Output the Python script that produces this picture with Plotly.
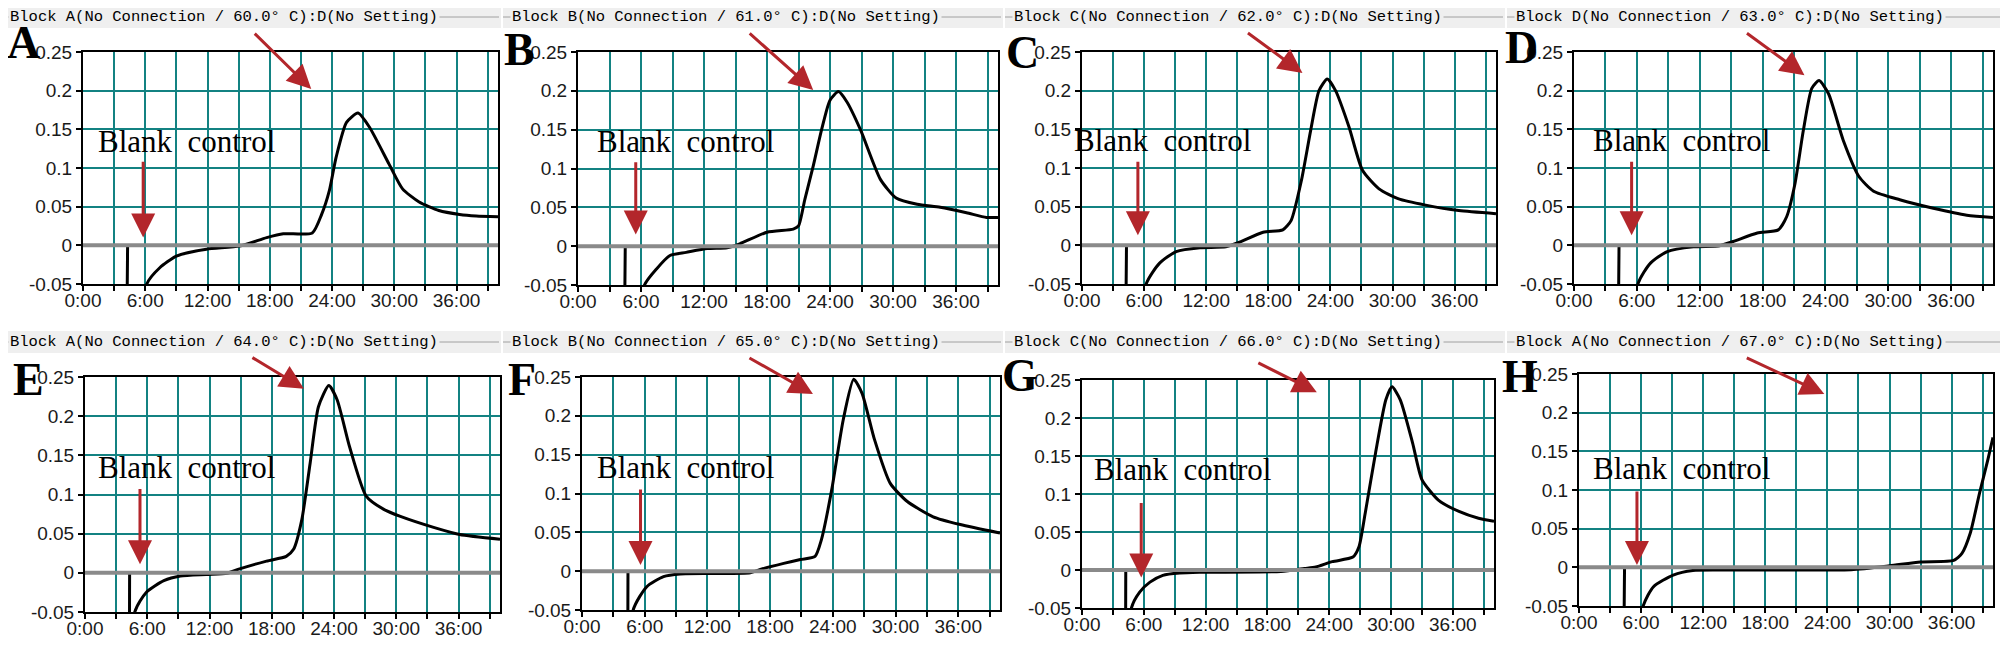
import plotly.graph_objects as go

# the page body has an 8px margin, so the figure is made smaller and
# every pixel position below is measured on the full 2008x647 picture
OFF = 8
W, H = 2008 - 2 * OFF, 647 - 2 * OFF

# ---- data (minutes, absorbance-like signal) ----
panel_letters = ["A", "B", "C", "D", "E", "F", "G", "H"]
block_names = ["A", "B", "C", "D", "A", "B", "C", "A"]
temperatures = [60.0, 61.0, 62.0, 63.0, 64.0, 65.0, 66.0, 67.0]

time_a = [4.3, 4.3, 6.15, 7.4, 9.0, 11.9, 15.1, 17.7, 19.3, 22.1, 23.0, 23.75, 24.4, 25.4,
          26.5, 27.6, 29.5, 30.8, 32.4, 34.3, 36.3, 37.9, 40.0]
signal_a = [0.0, -0.3, -0.05, -0.029, -0.014, -0.005, -0.001, 0.01, 0.015, 0.016, 0.04, 0.071,
            0.114, 0.159, 0.171, 0.153, 0.105, 0.073, 0.056, 0.045, 0.04, 0.038, 0.037]

time_b = [4.5, 4.5, 6.3, 7.5, 8.76, 10.3, 12.3, 14.2, 15.4, 18.0, 20.5, 21.0, 21.6, 22.4, 23.2,
          24.0, 24.8, 25.6, 26.9, 28.8, 30.3, 32.3, 34.5, 37.0, 38.9, 40.0]
signal_b = [0.0, -0.3, -0.051, -0.029, -0.012, -0.008, -0.003, -0.002, 0.003, 0.018, 0.022,
            0.026, 0.06, 0.103, 0.15, 0.188, 0.199, 0.186, 0.15, 0.086, 0.062, 0.054, 0.05,
            0.043, 0.037, 0.037]

time_c = [4.3, 4.3, 6.2, 7.5, 9.1, 11.4, 13.9, 15.2, 17.5, 19.4, 20.2, 21.2, 22.1, 22.9, 23.7,
          24.5, 25.8, 27.1, 28.7, 30.6, 33.2, 36.4, 40.0]
signal_c = [0.0, -0.3, -0.05, -0.023, -0.008, -0.003, -0.002, 0.004, 0.017, 0.02, 0.032, 0.084,
            0.149, 0.2, 0.215, 0.2, 0.153, 0.097, 0.073, 0.06, 0.052, 0.045, 0.041]

time_d = [4.3, 4.3, 6.1, 7.3, 8.9, 11.4, 13.9, 15.2, 17.5, 19.5, 20.3, 21.1, 21.9, 22.7, 23.4,
          24.3, 25.7, 27.2, 28.6, 31.1, 34.3, 37.5, 40.0]
signal_d = [0.0, -0.3, -0.05, -0.023, -0.008, -0.002, -0.0005, 0.005, 0.016, 0.02, 0.037, 0.08,
            0.149, 0.203, 0.213, 0.196, 0.136, 0.089, 0.07, 0.059, 0.048, 0.039, 0.036]

time_e = [4.3, 4.3, 4.8, 5.9, 7.6, 9.2, 11.7, 13.7, 14.9, 17.5, 19.4, 20.1, 20.9, 21.7, 22.5,
          23.5, 24.3, 25.5, 27.1, 28.8, 30.4, 33.6, 36.1, 40.0]
signal_e = [0.0, -0.3, -0.05, -0.025, -0.01, -0.004, -0.002, -0.0005, 0.005, 0.015, 0.021, 0.03,
            0.068, 0.14, 0.212, 0.239, 0.221, 0.161, 0.098, 0.081, 0.072, 0.058, 0.049, 0.043]

time_f = [4.4, 4.4, 4.9, 6.2, 7.8, 9.4, 12.6, 16.1, 17.0, 19.3, 20.9, 22.3, 22.9, 23.9, 25.0,
          26.0, 26.8, 28.0, 29.5, 31.1, 33.6, 36.2, 40.0]
signal_f = [0.0, -0.3, -0.05, -0.02, -0.007, -0.0035, -0.003, -0.002, 0.002, 0.01, 0.015, 0.019,
            0.04, 0.105, 0.195, 0.247, 0.229, 0.169, 0.113, 0.09, 0.07, 0.06, 0.049]

time_g = [4.25, 4.25, 4.8, 5.6, 6.6, 7.85, 9.5, 11.4, 19.3, 21.6, 22.7, 24.3, 26.3, 26.9, 27.5,
          28.5, 29.5, 30.1, 30.9, 32.1, 33.0, 34.6, 36.6, 38.5, 40.0]
signal_g = [0.0, -0.3, -0.05, -0.029, -0.016, -0.007, -0.004, -0.003, -0.002, 0.002, 0.004,
            0.011, 0.017, 0.031, 0.075, 0.154, 0.224, 0.241, 0.224, 0.167, 0.119, 0.092, 0.077,
            0.068, 0.064]

time_h = [4.4, 4.4, 6.2, 7.2, 9.1, 11.0, 14.9, 26.3, 30.0, 33.0, 36.2, 37.0, 37.8, 38.7, 39.5, 40.0]
signal_h = [0.0, -0.3, -0.05, -0.025, -0.01, -0.004, -0.0035, -0.003, 0.002, 0.007, 0.009,
            0.018, 0.044, 0.096, 0.139, 0.168]

times = [time_a, time_b, time_c, time_d, time_e, time_f, time_g, time_h]
signals = [signal_a, signal_b, signal_c, signal_d, signal_e, signal_f, signal_g, signal_h]

x_tick_minutes = list(range(0, 40, 3))
x_tick_labels = [f"{m}:00" if m % 6 == 0 else "" for m in x_tick_minutes]
y_tick_values = [-0.05, 0, 0.05, 0.1, 0.15, 0.2, 0.25]
y_tick_labels = ["-0.05", "0", "0.05", "0.1", "0.15", "0.2", "0.25"]

# ---- layout of the 8 panels (pixels: left, right, top, bottom) ----
plot_boxes = [(83, 498, 52, 284), (578, 998, 52, 285), (1082, 1496, 52, 284), (1574, 1993, 52, 284),
              (85, 500, 377, 612), (582, 1000, 377, 610), (1082, 1494, 380, 608), (1579, 1993, 374, 606)]
letter_pos = [(24, 43), (519, 49), (1022, 52), (1521, 48), (28, 379), (522, 379), (1020, 375), (1520, 376)]
bar_rows = [(6, 28), (331, 353)]
# peak arrow: tip (minutes, value) and tail offset in px
peak_arrows = [(22.0, 0.202, -58, -57), (22.4, 0.201, -65, -58), (21.3, 0.223, -56, -41),
               (22.0, 0.22, -59, -43), (21.1, 0.235, -53, -32), (22.1, 0.228, -65, -37),
               (22.8, 0.234, -60, -30), (23.7, 0.224, -79, -37)]
# blank arrow: x, tip y, tail y
blank_arrows = [(5.8, 0.01, 0.11), (5.5, 0.015, 0.11), (5.4, 0.013, 0.11), (5.5, 0.013, 0.11),
                (5.3, 0.011, 0.109), (5.6, 0.008, 0.107), (5.75, -0.01, 0.09), (5.6, 0.003, 0.10)]
blank_labels = [(10.0, 0.134), (10.2, 0.135), (7.8, 0.135), (10.3, 0.135),
                (9.8, 0.134), (9.9, 0.134), (9.75, 0.132), (9.9, 0.128)]

RED = "#b3262b"
TEAL = "#138282"


def px_x(p):
    return (p - OFF) / W


def px_y(p):
    return 1 - (p - OFF) / H


fig = go.Figure()
shapes = []
annotations = []

for i in range(8):
    sfx = "" if i == 0 else str(i + 1)
    xref, yref = "x" + sfx, "y" + sfx
    left, right, top, bottom = plot_boxes[i]
    row, col = divmod(i, 4)

    fig.add_trace(go.Scatter(
        x=times[i], y=signals[i], mode="lines",
        line=dict(color="black", width=3, shape="spline", smoothing=0.6),
        xaxis=xref, yaxis=yref, hoverinfo="skip", showlegend=False,
    ))

    fig.layout["xaxis" + sfx] = dict(
        domain=[px_x(left), px_x(right)], anchor=yref, range=[0, 40],
        tickvals=x_tick_minutes, ticktext=x_tick_labels,
        showgrid=True, gridcolor=TEAL, gridwidth=2, zeroline=False,
        showline=True, mirror=True, linecolor="black", linewidth=2,
        ticks="outside", ticklen=5, tickwidth=1.5, tickcolor="black",
        ticklabelstandoff=-7,
        tickfont=dict(family="Liberation Sans", size=19, color="#1a1a1a"),
        automargin=False, fixedrange=True,
    )
    fig.layout["yaxis" + sfx] = dict(
        domain=[px_y(bottom), px_y(top)], anchor=xref, range=[-0.05, 0.25],
        tickvals=y_tick_values, ticktext=y_tick_labels,
        showgrid=True, gridcolor=TEAL, gridwidth=2, zeroline=False,
        showline=True, mirror=True, linecolor="black", linewidth=2,
        ticks="outside", ticklen=5, tickwidth=1.5, tickcolor="black",
        tickfont=dict(family="Liberation Sans", size=19, color="#1a1a1a"),
        automargin=False, fixedrange=True,
    )

    # gray baseline at zero, drawn over the curve
    shapes.append(dict(type="line", xref=xref + " domain", yref=yref, x0=0, x1=1, y0=0, y1=0,
                       line=dict(color="#8a8a8a", width=4), layer="above"))

    # title bar
    b0, b1 = bar_rows[row]
    bx0, bx1 = col * 502 + 1, col * 502 + 501
    shapes.append(dict(type="rect", xref="paper", yref="paper",
                       x0=px_x(bx0), x1=px_x(bx1), y0=px_y(b1), y1=px_y(b0),
                       fillcolor="#efefef", line=dict(width=0), layer="below"))
    shapes.append(dict(type="line", xref="paper", yref="paper",
                       x0=px_x(bx0), x1=px_x(bx1 - 2), y0=px_y((b0 + b1) / 2), y1=px_y((b0 + b1) / 2),
                       line=dict(color="#a0a0a0", width=1), layer="below"))
    title = f"Block {block_names[i]}(No Connection / {temperatures[i]:.1f}° C):D(No Setting)"
    annotations.append(dict(text=title, xref="paper", yref="paper",
                            x=px_x(bx0 + 7), y=px_y((b0 + b1) / 2), xanchor="left", yanchor="middle",
                            showarrow=False, bgcolor="#efefef", borderpad=1,
                            font=dict(family="Liberation Mono", size=15.5, color="black")))

    # panel letter
    lx, ly = letter_pos[i]
    annotations.append(dict(text=f"<b>{panel_letters[i]}</b>", xref="paper", yref="paper",
                            x=px_x(lx), y=px_y(ly), xanchor="center", yanchor="middle",
                            showarrow=False,
                            font=dict(family="Liberation Serif", size=46, color="black")))

    # "Blank control" label and arrow
    tx, ty = blank_labels[i]
    annotations.append(dict(text="Blank\u00a0\u00a0control", xref=xref, yref=yref, x=tx, y=ty,
                            xanchor="center", yanchor="middle", showarrow=False,
                            font=dict(family="Liberation Serif", size=31, color="black")))
    ax_, tip_y, tail_y = blank_arrows[i]
    annotations.append(dict(text="", xref=xref, yref=yref, x=ax_, y=tip_y,
                            axref=xref, ayref=yref, ax=ax_, ay=tail_y,
                            showarrow=True, arrowhead=2, arrowsize=1.6, arrowwidth=3,
                            arrowcolor=RED))

    # peak arrow
    px_, py_, dx, dy = peak_arrows[i]
    annotations.append(dict(text="", xref=xref, yref=yref, x=px_, y=py_, ax=dx, ay=dy,
                            showarrow=True, arrowhead=2, arrowsize=1.6, arrowwidth=3,
                            arrowcolor=RED))

fig.update_layout(
    width=W, height=H,
    margin=dict(l=0, r=0, t=0, b=0),
    paper_bgcolor="white", plot_bgcolor="white",
    showlegend=False,
    shapes=shapes, annotations=annotations,
)

fig.write_html("out.html")
